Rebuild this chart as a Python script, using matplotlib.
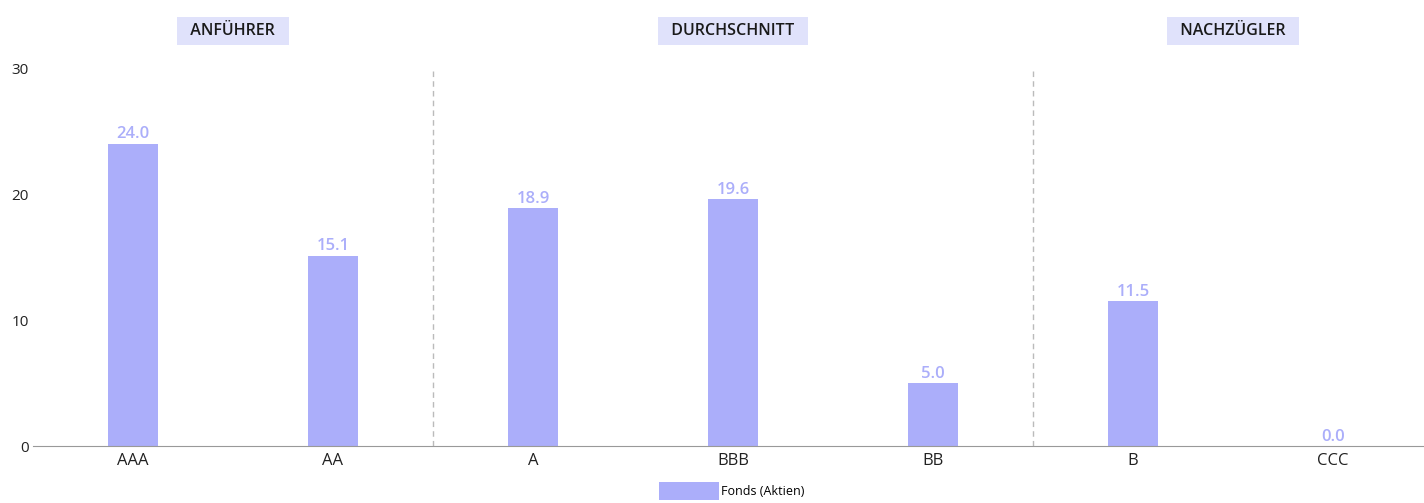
import matplotlib.pyplot as plt
from matplotlib.patches import Patch

plt.rcParams['font.family'] = ['Open Sans', 'DejaVu Sans']

categories = ["AAA", "AA", "A", "BBB", "BB", "B", "CCC"]
values = [24.0, 15.1, 18.9, 19.6, 5.0, 11.5, 0.0]
series_name = "Fonds (Aktien)"
groups = ["ANFÜHRER", "DURCHSCHNITT", "NACHZÜGLER"]
group_centers = [0.5, 3.0, 5.5]
separators = [1.5, 4.5]
y_ticks = [0, 10, 20, 30]

bar_color = "#abaefa"

W, H = 1424, 503
fig = plt.figure(figsize=(W / 100, H / 100), dpi=100)
ax = fig.add_axes([33 / W, (H - 446) / H, 1400 / W, (446 - 68) / H])

x = range(len(categories))
ax.bar(x, values, width=0.25, color=bar_color, zorder=2)
for xi, v in zip(x, values):
    ax.text(xi, v + 0.1, f"{v:.1f}", ha="center", va="bottom",
            fontsize=12, fontweight="semibold", color=bar_color)

for s in separators:
    ax.axvline(s, color="#bbbbbb", linestyle=(0, (4, 3)), linewidth=1, zorder=1)

ax.set_xlim(-0.5, len(categories) - 0.5)
ax.set_ylim(0, 30)
ax.set_xticks(list(x))
ax.set_xticklabels(categories, fontsize=12, color="#222222")
ax.set_yticks(y_ticks)
ax.set_yticklabels([str(t) for t in y_ticks], fontsize=11, color="#222222")
ax.tick_params(length=0, pad=5)
ax.tick_params(axis="y", pad=3)
for side in ["top", "right", "left"]:
    ax.spines[side].set_visible(False)
ax.spines["bottom"].set_color("#999999")

for g, c in zip(groups, group_centers):
    ax.text(c, 415 / 378, "  " + g + "  ", transform=ax.get_xaxis_transform(),
            ha="center", va="center", fontsize=11.5, fontweight="semibold", color="#1a1a1a",
            bbox=dict(boxstyle="square,pad=0.35", facecolor="#e0e2fb", edgecolor="none"))

fig.legend(handles=[Patch(facecolor=bar_color, edgecolor="none", label=series_name)],
           loc="lower center", bbox_to_anchor=(0.514, 0.004), frameon=False,
           fontsize=9, handlelength=4.8, handleheight=1.9, handletextpad=0.2,
           borderaxespad=0, borderpad=0.05)

fig.savefig("out.png", dpi=100)
